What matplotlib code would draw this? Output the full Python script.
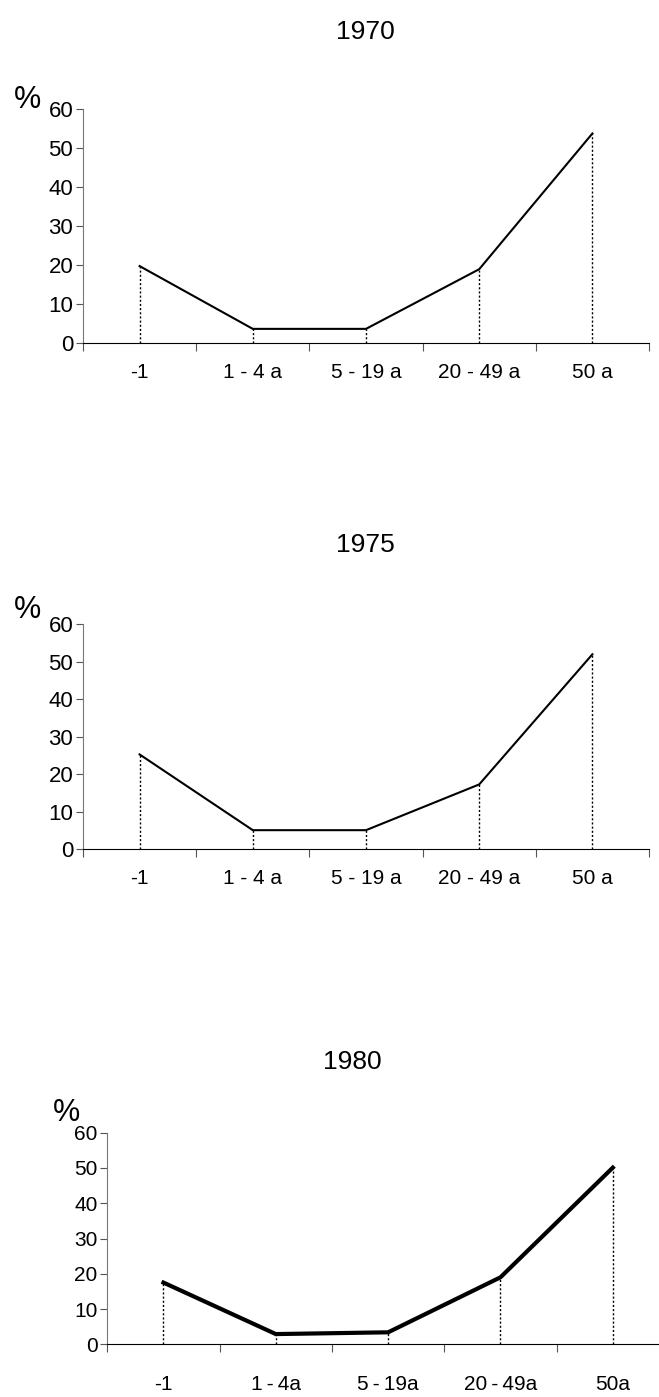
import matplotlib.pyplot as plt
import numpy as np

plt.rcParams['font.family'] = ['Liberation Sans', 'DejaVu Sans']

categories = ['-1', '1 - 4 a', '5 - 19 a', '20 - 49 a', '50 a']
cat3 = ['-1', '1\u2009-\u20094a', '5\u2009-\u200919a', '20\u2009-\u200949a', '50a']
years = ['1970', '1975', '1980']
v1970 = [19.8, 3.7, 3.7, 19.0, 53.8]
v1975 = [25.3, 5.1, 5.1, 17.3, 52.0]
v1980 = [17.5, 2.9, 3.4, 19.0, 50.1]
yticks = [0, 10, 20, 30, 40, 50, 60]

W, H = 659, 1397
fig = plt.figure(figsize=(W / 100, H / 100), dpi=100)

def px(l, t, r, b):
    return [l / W, 1 - b / H, (r - l) / W, (b - t) / H]

boxes = [px(83, 109.3, 649, 343.3), px(83, 624.3, 649, 849.3), px(107.3, 1132.7, 669, 1344.3)]
series = [v1970, v1975, v1980]
labels = [categories, categories, cat3]
lws = [1.5, 1.5, 3.0]
xpads = [14, 14, 22]
title_pos = [(365, 32), (365, 545), (352, 1062)]
pct_pos = [(27, 100), (27, 610), (67, 1113)]

for i in range(3):
    ax = fig.add_axes(boxes[i])
    x = np.arange(5) + 0.5
    y = series[i]
    ax.plot(x, y, color='black', lw=lws[i], solid_joinstyle='miter', zorder=3)
    ax.vlines(x, 0, y, colors='black', linestyles=(0, (1.5, 1.5)), lw=1.0, zorder=2)
    ax.set_xlim(0, 5)
    ax.set_ylim(0, 60)
    ax.set_yticks(yticks)
    ax.set_xticks(np.arange(6))
    ax.set_xticklabels([])
    ax.set_xticks(x, minor=True)
    ax.set_xticklabels(labels[i], minor=True, fontsize=15)
    ax.tick_params(axis='x', which='minor', length=0, pad=xpads[i])
    ax.tick_params(axis='x', which='major', length=6, direction='out', color='#555555')
    ax.tick_params(axis='y', length=5, direction='out', color='#555555', pad=2,
                   labelsize=16 if i < 2 else 15)
    for s in ['top', 'right']:
        ax.spines[s].set_visible(False)
    ax.spines['left'].set_color('#777777')
    ax.spines['bottom'].set_color('black')
    ax.patch.set_alpha(0)
    tx, ty = title_pos[i]
    fig.text(tx / W, 1 - ty / H, years[i], ha='center', va='center', fontsize=19)
    px_, py_ = pct_pos[i]
    fig.text(px_ / W, 1 - py_ / H, '%', ha='center', va='center', fontsize=22)

fig.savefig('out.png', dpi=100)
